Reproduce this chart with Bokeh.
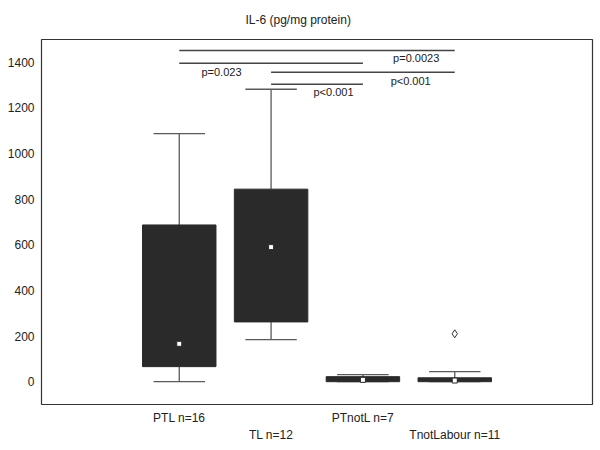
from bokeh.plotting import figure
from bokeh.models import LinearAxis, FixedTicker, Range1d
from bokeh.core.properties import value
from bokeh.embed import file_html
from bokeh.resources import INLINE

# ---- data ----
categories = ["PTL", "TL", "PTnotL", "TnotLabour"]
n_counts = [16, 12, 7, 11]
q1 = [66, 262, 0, 0]
q3 = [687, 844, 22, 17]
medians = [166, 590, 8, 5]
whisk_lo = [0, 184, 0, 0]
whisk_hi = [1087, 1282, 31, 44]
outlier_group = [4]
outlier_val = [210]

# significance brackets (group index from / to, level, p label, label position)
sig_from = [1, 1, 2, 2]
sig_to = [4, 3, 4, 3]
sig_level = [1452, 1396, 1356, 1304]
sig_text = ["p=0.0023", "p=0.023", "p<0.001", "p<0.001"]
sig_label_x = [3.58, 1.46, 3.52, 2.68]
sig_label_y = [1417, 1356, 1317, 1269]

y_ticks = [0, 200, 400, 600, 800, 1000, 1200, 1400]

FONT = "Liberation Sans"
TXT = "#222222"
BOX = "#2a2a2a"
GRAY = "#5a5a5a"

pos = list(range(1, len(categories) + 1))
labels = [f"{c} n={n}" for c, n in zip(categories, n_counts)]

p = figure(width=600, height=450, output_backend="svg", toolbar_location=None,
           x_axis_type=None, y_axis_type=None,
           x_range=Range1d(-0.5, 5.5), y_range=Range1d(-100, 1500),
           min_border_left=41, min_border_right=8, min_border_top=38, min_border_bottom=46)
p.background_fill_color = "white"
p.border_fill_color = "white"
p.outline_line_color = "#333333"
p.outline_line_width = 1.2

p.title.text = "IL-6 (pg/mg protein)"
p.title.align = "left"
p.title.offset = 204
p.title.text_font = FONT
p.title.text_font_size = "12px"
p.title.text_font_style = "normal"
p.title.text_color = TXT
p.title.standoff = 23
p.title.vertical_align = "middle"

# y axis
yax = LinearAxis(ticker=FixedTicker(ticks=y_ticks))
yax.axis_line_color = None
yax.major_tick_line_color = None
yax.minor_tick_line_color = None
yax.major_tick_out = 0
yax.major_label_standoff = 7
yax.major_label_text_font = FONT
yax.major_label_text_font_size = "12px"
yax.major_label_text_color = TXT
p.add_layout(yax, "left")

# two staggered x axes
def make_xaxis(idx, standoff):
    ticks = [pos[i] for i in idx]
    ax = LinearAxis(ticker=FixedTicker(ticks=ticks),
                    major_label_overrides={pos[i]: labels[i] for i in idx})
    ax.axis_line_color = None
    ax.major_tick_line_color = None
    ax.minor_tick_line_color = None
    ax.major_tick_out = 0
    ax.major_tick_in = 0
    ax.major_label_standoff = standoff
    ax.major_label_text_font = FONT
    ax.major_label_text_font_size = "12px"
    ax.major_label_text_color = TXT
    return ax

p.add_layout(make_xaxis([0, 2], 6), "below")
p.add_layout(make_xaxis([1, 3], 0), "below")

# whiskers
p.segment(x0=pos, y0=q3, x1=pos, y1=whisk_hi, line_color=GRAY, line_width=1.3)
p.segment(x0=pos, y0=q1, x1=pos, y1=whisk_lo, line_color=GRAY, line_width=1.3)
cap = 0.28
p.segment(x0=[x - cap for x in pos], y0=whisk_hi, x1=[x + cap for x in pos], y1=whisk_hi,
          line_color=GRAY, line_width=1.3)
p.segment(x0=[x - cap for x in pos], y0=whisk_lo, x1=[x + cap for x in pos], y1=whisk_lo,
          line_color=GRAY, line_width=1.3)

# boxes
p.vbar(x=pos, top=q3, bottom=q1, width=0.8, fill_color=BOX, line_color=BOX, line_width=1)

# medians
p.scatter(x=pos, y=medians, marker="square", size=5, fill_color="white",
          line_color=BOX, line_width=1)

# outliers
p.scatter(x=outlier_group, y=outlier_val, marker="diamond", size=8, fill_color="white",
          line_color="#333333", line_width=1)

# significance lines
p.segment(x0=sig_from, y0=sig_level, x1=sig_to, y1=sig_level, line_color="#444444", line_width=1.5)
p.text(x=sig_label_x, y=sig_label_y, text=sig_text, text_font=value(FONT),
       text_font_size="11px", text_color=TXT, text_align="center", text_baseline="middle")

open("out.html", "w").write(file_html(p, INLINE))
